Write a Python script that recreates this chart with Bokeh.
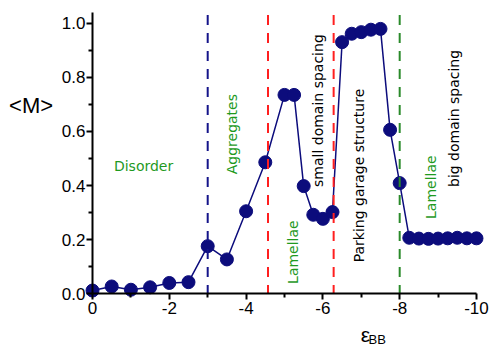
from bokeh.plotting import figure
from bokeh.models import Range1d, Label, FixedTicker
from bokeh.embed import file_html
from bokeh.resources import INLINE

# data
eps = [0, -0.5, -1, -1.5, -2, -2.5, -3, -3.5, -4, -4.5, -5, -5.25, -5.5, -5.75, -6, -6.25,
       -6.5, -6.75, -7, -7.25, -7.5, -7.75, -8, -8.25, -8.5, -8.75, -9, -9.25, -9.5, -9.75, -10]
M = [0.012, 0.027, 0.015, 0.024, 0.040, 0.043, 0.176, 0.127, 0.305, 0.486, 0.735, 0.735, 0.398,
     0.292, 0.277, 0.302, 0.930, 0.961, 0.967, 0.976, 0.979, 0.606, 0.409, 0.207, 0.204, 0.203,
     0.204, 0.205, 0.207, 0.205, 0.205]

x_ticks = [0, -2, -4, -6, -8, -10]
x_minor = [-1, -3, -5, -7, -9]
y_ticks = [0.0, 0.2, 0.4, 0.6, 0.8, 1.0]
y_minor = [0.1, 0.3, 0.5, 0.7, 0.9]

boundaries = [-3, -4.57, -6.28, -8]
boundary_colors = ["#14148a", "#ff1f1f", "#ff1f1f", "#2a8a2a"]

labels = ["Disorder", "Aggregates", "Lamellae", "small domain spacing",
          "Parking garage structure", "Lamellae", "big domain spacing"]
label_x = [-1.33, -3.64, -5.23, -5.87, -6.95, -8.82, -9.41]
label_y = [0.474, 0.59, 0.154, 0.677, 0.437, 0.394, 0.648]
label_vertical = [False, True, True, True, True, True, True]
label_colors = ["#1f9a1f", "#1f9a1f", "#1f9a1f", "black", "black", "#1f9a1f", "black"]

navy = "#0c0c7c"

p = figure(width=489, height=346, output_backend="svg", toolbar_location=None,
           x_range=Range1d(2.396, -10.339), y_range=Range1d(-0.1948, 1.0839),
           min_border_left=0, min_border_right=0, min_border_top=0, min_border_bottom=0)
p.outline_line_color = None
p.grid.visible = False
p.background_fill_color = "white"
p.border_fill_color = "white"

p.line(eps, M, line_color=navy, line_width=1.5)
p.scatter(eps, M, size=13, fill_color=navy, line_color=navy)

p.segment(x0=boundaries, y0=[1.03] * len(boundaries), x1=boundaries, y1=[0] * len(boundaries),
          line_color=boundary_colors, line_width=2, line_dash="10 8")

for t, x, y, v, c in zip(labels, label_x, label_y, label_vertical, label_colors):
    p.add_layout(Label(x=x, y=y, text=t, text_font="DejaVu Sans", text_font_size="14px",
                       text_color=c, text_align="center", text_baseline="middle",
                       angle=(1.5707963 if v else 0)))

for ax, ticks, minor, bounds in [(p.xaxis[0], x_ticks, x_minor, (-10, 0)),
                                 (p.yaxis[0], y_ticks, y_minor, (0, 1.04))]:
    ax.fixed_location = 0
    ax.bounds = bounds
    ax.ticker = FixedTicker(ticks=ticks, minor_ticks=minor)
    ax.axis_line_width = 2
    ax.axis_line_color = "black"
    ax.major_tick_line_width = 2
    ax.minor_tick_line_width = 2
    ax.major_tick_out = 6
    ax.major_tick_in = 0
    ax.minor_tick_out = 4
    ax.minor_tick_in = 0
    ax.major_label_text_font = "Liberation Sans"
    ax.major_label_text_font_size = "17px"
    ax.major_label_text_color = "black"

p.xaxis.major_label_overrides = {t: str(int(t)) for t in x_ticks}
p.yaxis.major_label_overrides = {t: "%.1f" % t for t in y_ticks}
p.xaxis.major_label_standoff = 2
p.yaxis.major_label_standoff = 1

p.add_layout(Label(x=1.6, y=0.696, text="<M>", text_font="Liberation Sans", text_font_size="22px",
                   text_color="black", text_align="center", text_baseline="middle"))
p.add_layout(Label(x=-7.11, y=-0.152, text="\u03b5", text_font="Liberation Sans", text_font_size="21px",
                   text_color="black", text_align="center", text_baseline="alphabetic"))
p.add_layout(Label(x=-7.19, y=-0.168, text="BB", text_font="Liberation Sans", text_font_size="13px",
                   text_color="black", text_align="left", text_baseline="alphabetic"))

open("out.html", "w").write(file_html(p, INLINE))
